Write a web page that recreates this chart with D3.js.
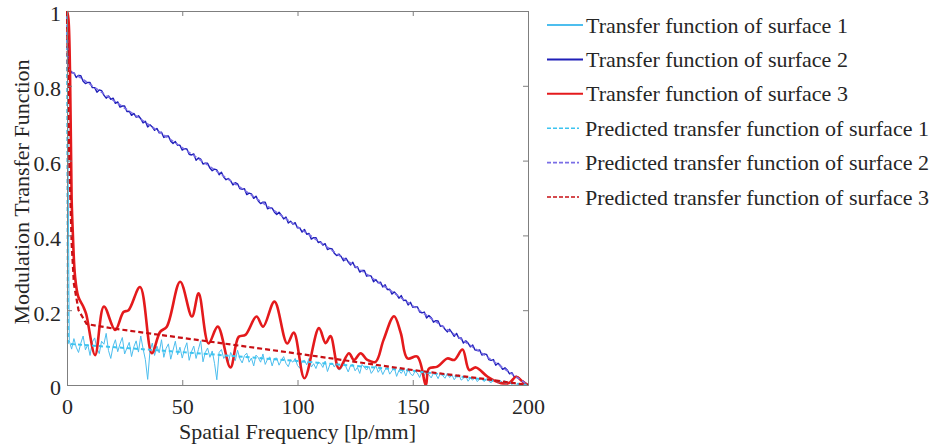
<!DOCTYPE html>
<html>
<head>
<meta charset="utf-8">
<script src="https://cdn.jsdelivr.net/npm/d3@7"></script>
<style>
  body { margin: 0; background: #fff; }
  text { font-family: "Liberation Serif", "Times New Roman", serif; fill: #262626; }
</style>
</head>
<body>
<svg id="chart" width="933" height="446"></svg>
<script>
// spatial frequency samples (lp/mm) for the measured curves
const freq = d3.range(0, 201);

// surface 1 measured MTF (one value per lp/mm, 0..200)
const mtf1 = [1.000,
  0.118,0.096,0.124,0.101,0.087,0.112,0.131,0.094,0.108,0.079,
  0.115,0.126,0.098,0.084,0.117,0.109,0.138,0.092,0.071,0.104,
  0.121,0.089,0.110,0.127,0.083,0.099,0.114,0.076,0.102,0.118,
  0.088,0.131,0.097,0.068,0.015,0.091,0.112,0.079,0.104,0.086,
  0.121,0.074,0.098,0.110,0.069,0.093,0.117,0.081,0.101,0.072,
  0.096,0.113,0.066,0.089,0.104,0.071,0.095,0.118,0.062,0.087,
  0.099,0.074,0.091,0.058,0.014,0.087,0.095,0.071,0.080,0.061,
  0.087,0.075,0.065,0.093,0.070,0.059,0.079,0.085,0.061,0.072,
  0.051,0.080,0.073,0.061,0.083,0.055,0.069,0.075,0.051,0.071,
  0.072,0.053,0.066,0.076,0.058,0.049,0.067,0.061,0.071,0.052,
  0.045,0.063,0.066,0.054,0.071,0.048,0.057,0.044,0.061,0.058,
  0.047,0.064,0.036,0.054,0.059,0.048,0.060,0.040,0.044,0.061,
  0.049,0.035,0.052,0.055,0.038,0.047,0.031,0.055,0.047,0.040,
  0.050,0.031,0.040,0.052,0.034,0.044,0.028,0.041,0.047,0.029,
  0.038,0.046,0.023,0.039,0.031,0.041,0.024,0.044,0.030,0.025,
  0.037,0.032,0.020,0.037,0.025,0.037,0.027,0.019,0.032,0.029,
  0.017,0.032,0.025,0.018,0.031,0.020,0.027,0.014,0.023,0.027,
  0.013,0.018,0.024,0.010,0.019,0.013,0.021,0.009,0.016,0.017,
  0.009,0.017,0.010,0.006,0.014,0.011,0.005,0.012,0.006,0.012,
  0.002,0.006,0.001,0.006,0.002,0.004,0.001,0.002,0.001,0.000];

// surface 2 measured MTF (one value per lp/mm, 0..200)
const mtf2 = [1.000,
  0.846,0.835,0.835,0.822,0.828,0.827,0.812,0.806,0.809,0.809,
  0.795,0.795,0.783,0.789,0.787,0.775,0.767,0.773,0.764,0.767,
  0.753,0.757,0.743,0.746,0.746,0.731,0.732,0.721,0.726,0.716,
  0.720,0.712,0.701,0.705,0.690,0.696,0.690,0.681,0.686,0.674,
  0.676,0.662,0.665,0.666,0.652,0.646,0.651,0.641,0.641,0.628,
  0.632,0.631,0.617,0.615,0.618,0.601,0.607,0.604,0.591,0.593,
  0.593,0.580,0.573,0.577,0.575,0.562,0.569,0.556,0.549,0.552,
  0.546,0.535,0.541,0.538,0.525,0.523,0.525,0.509,0.513,0.511,
  0.499,0.505,0.492,0.485,0.489,0.489,0.471,0.474,0.473,0.462,
  0.456,0.462,0.454,0.444,0.449,0.433,0.438,0.430,0.434,0.420,
  0.420,0.409,0.416,0.403,0.405,0.390,0.394,0.394,0.381,0.383,
  0.374,0.378,0.362,0.365,0.364,0.352,0.346,0.350,0.343,0.332,
  0.339,0.329,0.321,0.328,0.314,0.316,0.302,0.306,0.306,0.291,
  0.293,0.291,0.276,0.282,0.273,0.275,0.262,0.268,0.255,0.256,
  0.243,0.249,0.242,0.232,0.239,0.226,0.227,0.214,0.221,0.208,
  0.209,0.209,0.195,0.193,0.195,0.179,0.186,0.180,0.168,0.172,
  0.171,0.157,0.158,0.149,0.142,0.149,0.140,0.130,0.138,0.125,
  0.126,0.112,0.118,0.112,0.102,0.107,0.094,0.092,0.094,0.080,
  0.083,0.082,0.068,0.066,0.068,0.053,0.058,0.052,0.042,0.046,
  0.040,0.030,0.033,0.022,0.023,0.020,0.011,0.010,0.003,0.000];

// surface 3 measured MTF (smooth curve, read at its turning points)
const freq3 = [0,0.6,1.3,2,2.5,3.5,4.9,7.1,8.3,12.2,16,20.9,24.5,26.7,31.7,36.8,40.4,43.3,49.1,
  54.2,57.1,61.4,65.4,70.9,74.5,77.4,82.2,85.1,90,95.5,98.4,103,109.3,112.2,114.3,118,
  122.3,124.5,127.4,130.3,133.9,137.3,141.9,144.8,147.7,152,155.7,157,160.7,165,168,
  171.6,174.5,177.4,182.5,188.3,192,194.8,197.7,200];
const mtf3 = [1,0.98,0.84,0.5,0.41,0.29,0.236,0.209,0.19,0.08,0.21,0.147,0.195,0.2,0.262,0.085,0.142,0.156,0.276,
  0.183,0.245,0.111,0.156,0.047,0.129,0.134,0.183,0.156,0.223,0.111,0.14,0.018,0.152,0.112,0.131,0.044,
  0.085,0.067,0.085,0.067,0.062,0.12,0.184,0.139,0.071,0.076,0,0.044,0.049,0.071,0.067,
  0.095,0.04,0.047,0.022,0.005,0.006,0.022,0.009,0];

// predicted transfer functions
const predFreq1 = [0, 0.4, 50, 100, 150, 200];
const pred1 = [1, 0.11, 0.088, 0.064, 0.038, 0];
const predFreq2 = [0, 0.3, 200];
const pred2 = [1, 0.845, 0];
const predFreq3 = [0, 1, 2, 3, 5, 8.5, 20, 50, 100, 150, 180, 200];
const pred3 = [1, 0.6, 0.38, 0.27, 0.2, 0.163, 0.151, 0.126, 0.084, 0.04, 0.017, 0];

const xTicks = [0, 50, 100, 150, 200];
const yTicks = [0, 0.2, 0.4, 0.6, 0.8, 1];

const legendLabels = [
  'Transfer function of surface 1',
  'Transfer function of surface 2',
  'Transfer function of surface 3',
  'Predicted transfer function of surface 1',
  'Predicted transfer function of surface 2',
  'Predicted transfer function of surface 3'
];

const colors = {
  s1: '#4dbeee',
  s2: '#1f1fb8',
  s3: '#e41a1c',
  p1: '#3cc4f0',
  p2: '#7a6ee6',
  p3: '#c80f14',
  axis: '#7f7f7f'
};

const margin = { top: 11, right: 405, bottom: 61, left: 67 };
const W = 933, H = 446;
const width = W - margin.left - margin.right;
const height = H - margin.top - margin.bottom;

const svg = d3.select('#chart');
const g = svg.append('g').attr('transform', `translate(${margin.left},${margin.top})`);

const x = d3.scaleLinear().domain([0, 200]).range([0, width]);
const y = d3.scaleLinear().domain([0, 1]).range([height, 0]);

g.append('defs').append('clipPath').attr('id', 'clip')
  .append('rect').attr('x', -1).attr('y', -1).attr('width', width + 2).attr('height', height + 2);

const toPts = (xs, ys) => xs.map((d, i) => [d, ys[i]]);
const line = d3.line().x(d => x(d[0])).y(d => y(d[1]));
const smooth = d3.line().x(d => x(d[0])).y(d => y(d[1])).curve(d3.curveCatmullRom.alpha(0.5));

const series = [
  { pts: toPts(freq, mtf1), color: colors.s1, w: 1, dash: null, gen: line },
  { pts: toPts(freq, mtf2), color: colors.s2, w: 1.4, dash: null, gen: line },
  { pts: toPts(freq3, mtf3), color: colors.s3, w: 2.6, dash: null, gen: smooth },
  { pts: toPts(predFreq1, pred1), color: colors.p1, w: 2, dash: '4,3', gen: line },
  { pts: toPts(predFreq2, pred2), color: colors.p2, w: 1.6, dash: '4,3', gen: line },
  { pts: toPts(predFreq3, pred3), color: colors.p3, w: 2.2, dash: '5,3', gen: line }
];

const plot = g.append('g').attr('clip-path', 'url(#clip)');
series.forEach(s => {
  plot.append('path')
    .attr('d', s.gen(s.pts))
    .attr('fill', 'none')
    .attr('stroke', s.color)
    .attr('stroke-width', s.w)
    .attr('stroke-dasharray', s.dash)
    .attr('stroke-linejoin', 'round');
});

// axes box with inward ticks
const fmt = d => String(d);
const xAxis = g.append('g').attr('transform', `translate(0,${height})`)
  .call(d3.axisBottom(x).tickValues(xTicks).tickFormat(fmt).tickSize(-5).tickPadding(13));
const xTop = g.append('g')
  .call(d3.axisTop(x).tickValues(xTicks).tickFormat('').tickSize(-5));
const yAxis = g.append('g')
  .call(d3.axisLeft(y).tickValues(yTicks).tickFormat(fmt).tickSize(-5).tickPadding(6));
const yRight = g.append('g').attr('transform', `translate(${width},0)`)
  .call(d3.axisRight(y).tickValues(yTicks).tickFormat('').tickSize(-5));

[xAxis, xTop, yAxis, yRight].forEach(a => {
  a.select('.domain').attr('stroke', colors.axis);
  a.selectAll('.tick line').attr('stroke', colors.axis);
  a.selectAll('text').attr('font-family', '"Liberation Serif", serif')
    .attr('font-size', 22).attr('fill', '#262626');
});
yAxis.selectAll('text').attr('dy', '0.45em');

// axis titles
g.append('text')
  .attr('x', width / 2).attr('y', height + 54)
  .attr('text-anchor', 'middle').attr('font-size', 22)
  .text('Spatial Frequency [lp/mm]');
g.append('text')
  .attr('transform', `translate(${29 - margin.left},${height / 2 - 6}) rotate(-90)`)
  .attr('text-anchor', 'middle').attr('font-size', 22)
  .text('Modulation Transfer Function');

// legend
const legend = svg.append('g').attr('transform', 'translate(547,25)');
legendLabels.forEach((label, i) => {
  const s = series[i];
  const row = legend.append('g').attr('transform', `translate(0,${i * 34.4})`);
  row.append('line')
    .attr('x1', 0).attr('x2', s.dash ? 32 : 36).attr('y1', 0).attr('y2', 0)
    .attr('stroke', s.color).attr('stroke-width', s.dash ? 1.6 : 2)
    .attr('stroke-dasharray', s.dash ? '4,2' : null);
  row.append('text')
    .attr('x', s.dash ? 38 : 39).attr('y', 7.5)
    .attr('font-size', 22)
    .text(label);
});
</script>
</body>
</html>
